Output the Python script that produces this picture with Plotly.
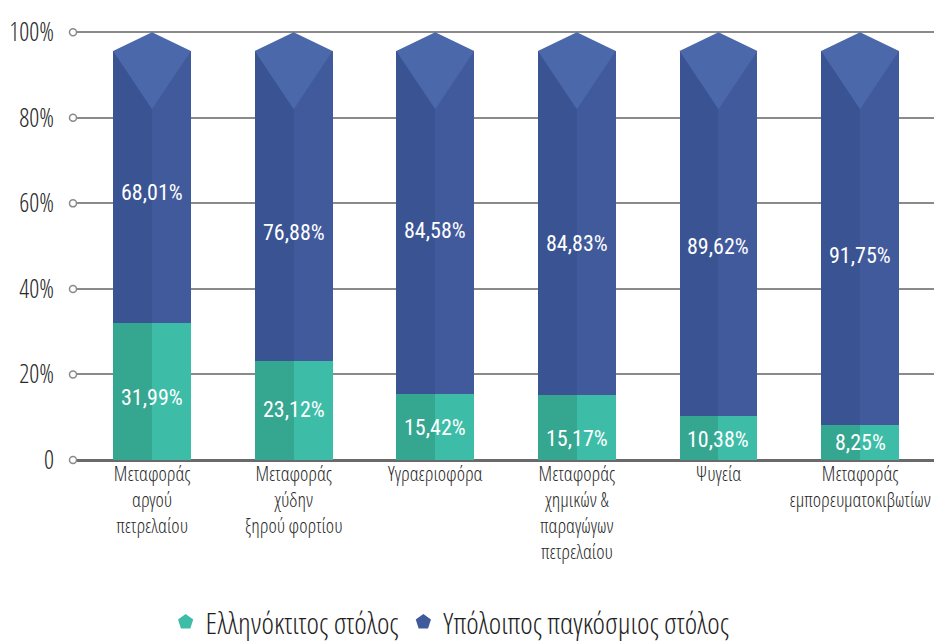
import plotly.graph_objects as go

# Fleet share by vessel type (percent of world fleet)
categories = [
    "Μεταφοράς<br>αργού<br>πετρελαίου",
    "Μεταφοράς<br>χύδην<br>ξηρού φορτίου",
    "Υγραεριοφόρα",
    "Μεταφοράς<br>χημικών &<br>παραγώγων<br>πετρελαίου",
    "Ψυγεία",
    "Μεταφοράς<br>εμπορευματοκιβωτίων",
]
greek_fleet = [31.99, 23.12, 15.42, 15.17, 10.38, 8.25]
rest_of_world = [68.01, 76.88, 84.58, 84.83, 89.62, 91.75]
series_names = ["Ελληνόκτιτος στόλος", "Υπόλοιπος παγκόσμιος στόλος"]
y_tick_values = [0, 20, 40, 60, 80, 100]
y_tick_labels = ["0", "20%", "40%", "60%", "80%", "100%"]

# Layout constants
greek_label_y = [14.7, 11.7, 7.7, 5.1, 4.7, 4.2]
rest_label_y = [62.6, 53.3, 53.7, 50.7, 49.8, 47.9]
HALF = 0.275          # half bar width, category units
ROOF_RISE = 4.4       # shoulder-to-apex height of the roof
ROOF_DEPTH = 18.0     # apex-to-V-tip depth of the light facet
X_RANGE = [-0.558, 5.522]
Y_RANGE = [0, 101]

FONT = "Open Sans Condensed Light, Roboto Condensed, DejaVu Sans Condensed, sans-serif"
LABEL_FONT = "Roboto Condensed, Open Sans Condensed Light, DejaVu Sans Condensed, sans-serif"
TEAL_L, TEAL_R = "#35a68f", "#3dbda7"
BLUE_L, BLUE_R, BLUE_ROOF = "#3a5393", "#415a9c", "#4b68aa"
GRID = "#8a8a8a"

idx = list(range(len(categories)))
totals = [g + r for g, r in zip(greek_fleet, rest_of_world)]

fig = go.Figure()

# Two-tone bar halves: Greek-built share at the bottom
for off, col in [(-HALF, TEAL_L), (0, TEAL_R)]:
    fig.add_trace(go.Bar(
        x=idx, y=greek_fleet, base=[0] * len(idx),
        offset=off, width=HALF, marker=dict(color=col, line=dict(width=0)),
        showlegend=False, hoverinfo="skip",
    ))

# Rest of world: shaft up to the roof shoulder
shaft = [r - ROOF_RISE for r in rest_of_world]
for off, col in [(-HALF, BLUE_L), (0, BLUE_R)]:
    fig.add_trace(go.Bar(
        x=idx, y=shaft, base=greek_fleet,
        offset=off, width=HALF, marker=dict(color=col, line=dict(width=0)),
        showlegend=False, hoverinfo="skip",
    ))

# Roof: light kite-shaped facet topping each bar
kx, ky = [], []
for c, top in zip(idx, totals):
    kx += [c - HALF, c, c + HALF, c, c - HALF, None]
    ky += [top - ROOF_RISE, top, top - ROOF_RISE, top - ROOF_DEPTH, top - ROOF_RISE, None]
fig.add_trace(go.Scatter(
    x=kx, y=ky, mode="lines", fill="toself", fillcolor=BLUE_ROOF,
    line=dict(width=0, color=BLUE_ROOF), showlegend=False, hoverinfo="skip",
))

# Small circles at the left end of each gridline
fig.add_trace(go.Scatter(
    x=[X_RANGE[0]] * len(y_tick_values), y=y_tick_values, mode="markers",
    marker=dict(symbol="circle", size=7, color="white", line=dict(color=GRID, width=1.5)),
    cliponaxis=False, showlegend=False, hoverinfo="skip",
))

# Legend entries
for name, col in zip(series_names, [TEAL_R, BLUE_R]):
    fig.add_trace(go.Scatter(
        x=[None], y=[None], mode="markers", name=name,
        marker=dict(symbol="pentagon", size=20, color=col),
    ))

# Value labels
for c, v, yl in zip(idx, greek_fleet, greek_label_y):
    fig.add_annotation(x=c, y=yl, text=f"{v:.2f}%".replace(".", ","), showarrow=False,
                       font=dict(family=LABEL_FONT, size=22, color="white"))
for c, v, yl in zip(idx, rest_of_world, rest_label_y):
    fig.add_annotation(x=c, y=yl, text=f"{v:.2f}%".replace(".", ","), showarrow=False,
                       font=dict(family=LABEL_FONT, size=22, color="white"))

fig.update_layout(
    width=934, height=642,
    margin=dict(l=73, r=0, t=28, b=182, autoexpand=False),
    paper_bgcolor="white", plot_bgcolor="white",
    barmode="overlay", bargap=0,
    font=dict(family=FONT, color="#2a2a2a"),
    xaxis=dict(
        range=X_RANGE, tickmode="array", tickvals=idx, ticktext=categories,
        showgrid=False, zeroline=False, showline=False, ticks="",
        ticklabeloverflow="allow", automargin=False,
        tickfont=dict(size=20, color="#2a2a2a"),
    ),
    yaxis=dict(
        range=Y_RANGE, tickmode="array", tickvals=y_tick_values, ticktext=y_tick_labels,
        showgrid=True, gridcolor=GRID, gridwidth=2,
        zeroline=True, zerolinecolor="#6a6a6a", zerolinewidth=2.5,
        showline=False, ticks="", ticklabelstandoff=18, automargin=False,
        tickfont=dict(size=25, color="#2a2a2a"),
    ),
    legend=dict(
        orientation="h", x=0.438, xanchor="center", y=-0.375, yanchor="middle",
        font=dict(family=FONT, size=30, color="#1e1e1e"),
    ),
)

fig.write_html("out.html")
